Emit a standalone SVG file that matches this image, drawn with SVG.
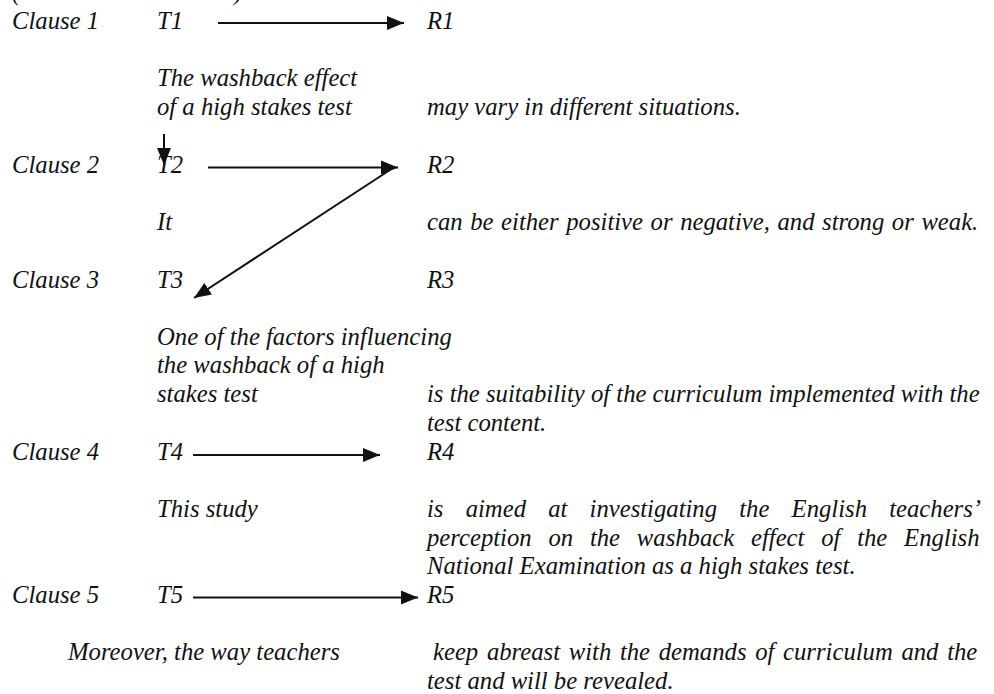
<svg xmlns="http://www.w3.org/2000/svg" width="994" height="694" viewBox="0 0 994 694">
<style>
text{font-family:"Liberation Serif","Times New Roman",serif;font-style:italic;font-size:24.7px;fill:#111}
.c line{stroke:#111;stroke-width:2}
</style>
<defs>
<marker id="ah" markerUnits="userSpaceOnUse" markerWidth="18" markerHeight="15" viewBox="0 0 18 15" refX="17" refY="7.5" orient="auto">
<path d="M0,0.5 L17,7.5 L0,14.5 z" fill="#111"/>
</marker>
</defs>
<rect width="994" height="694" fill="#fff"/>
<g id="title"><text x="12" y="0">(</text><text x="234" y="0">)</text></g>
<g id="clauses">
<text x="12" y="29">Clause 1</text>
<text x="12" y="172.5">Clause 2</text>
<text x="12" y="287.5">Clause 3</text>
<text x="12" y="459.5">Clause 4</text>
<text x="12" y="603">Clause 5</text>
</g>
<g id="T1"><text x="157" y="29">T1</text></g>
<g id="R1"><text x="427" y="29">R1</text></g>
<g id="theme1"><text x="157" y="86.4">The washback effect</text><text x="157" y="115">of a high stakes test</text></g>
<g id="rheme1"><text x="427" y="115">may vary in different situations.</text></g>
<g id="T2"><text x="157" y="172.5">T2</text></g>
<g id="R2"><text x="427" y="172.5">R2</text></g>
<g id="theme2"><text x="157" y="230">It</text></g>
<g id="rheme2"><text x="427" y="230" word-spacing="1.4">can be either positive or negative, and strong or weak.</text></g>
<g id="T3"><text x="157" y="287.5">T3</text></g>
<g id="R3"><text x="427" y="287.5">R3</text></g>
<g id="theme3"><text x="157" y="344.7">One of the factors influencing</text><text x="157" y="373.4">the washback of a high</text><text x="157" y="402.1">stakes test</text></g>
<g id="rheme3"><text x="427" y="402.1">is the suitability of the curriculum implemented with the</text><text x="427" y="430.8">test content.</text></g>
<g id="T4"><text x="157" y="459.5">T4</text></g>
<g id="R4"><text x="427" y="459.5">R4</text></g>
<g id="theme4"><text x="157" y="516.9">This study</text></g>
<g id="rheme4"><text x="427" y="516.9" word-spacing="16">is aimed at investigating the English teachers’</text><text x="427" y="545.6" word-spacing="10.6">perception on the washback effect of the English</text><text x="427" y="574.3">National Examination as a high stakes test.</text></g>
<g id="T5"><text x="157" y="603">T5</text></g>
<g id="R5"><text x="427" y="603">R5</text></g>
<g id="theme5"><text x="68" y="660.4">Moreover, the way teachers</text></g>
<g id="rheme5"><text x="433" y="660.4" word-spacing="2.5">keep abreast with the demands of curriculum and the</text><text x="427" y="689">test and will be revealed.</text></g>
<g id="connectors" class="c">
<line x1="218" y1="23" x2="404" y2="23" marker-end="url(#ah)"/>
<line x1="164" y1="134" x2="164" y2="165" marker-end="url(#ah)"/>
<line x1="208" y1="167.5" x2="398" y2="167.5" marker-end="url(#ah)"/>
<line x1="393" y1="168" x2="194" y2="298" marker-end="url(#ah)"/>
<line x1="193" y1="455" x2="380" y2="455" marker-end="url(#ah)"/>
<line x1="193" y1="597.5" x2="418" y2="597.5" marker-end="url(#ah)"/>
</g>
</svg>
